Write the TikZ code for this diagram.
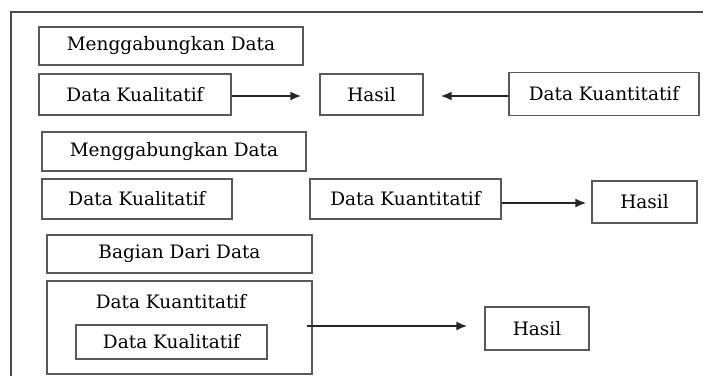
\documentclass[tikz,border=0pt]{standalone}
\usepackage{fontspec}
\setmainfont{DejaVu Serif}
\usetikzlibrary{arrows.meta}
\begin{document}
\begin{tikzpicture}[x=1pt,y=-1pt,
  box/.style={draw=black!65,line width=1.2pt,rectangle,inner sep=0pt,font=\fontsize{18.5}{22}\selectfont},
  lbl/.style={inner sep=0pt,font=\fontsize{18.5}{22}\selectfont},
  arr/.style={-{Latex[length=11pt,width=9pt]},line width=2pt,black!85}]
\useasboundingbox (0,0) rectangle (703,376);
\draw[black!70,line width=1.2pt] (11,376) -- (11,12) -- (703,12);
% section 1
\node[box,minimum width=264pt,minimum height=38pt] (m1) at (171,46) {Menggabungkan Data};
\node[box,minimum width=192pt,minimum height=41pt] (k1) at (135,94.5) {Data Kualitatif};
\node[box,minimum width=103pt,minimum height=41pt] (h1) at (371.5,94.5) {Hasil};
\node[box,minimum width=190pt,minimum height=43pt] (q1) at (604,94) {Data Kuantitatif};
\draw[arr,shorten >=18pt] ([yshift=-1.5pt]k1.east) -- ([yshift=-1.5pt]k1.east -| h1.west);
\draw[arr,shorten >=17pt] ([yshift=-2pt]q1.west) -- ([yshift=-2pt]q1.west -| h1.east);
% section 2
\node[box,minimum width=264pt,minimum height=39pt] (m2) at (174,151.5) {Menggabungkan Data};
\node[box,minimum width=190pt,minimum height=40pt] (k2) at (137,199) {Data Kualitatif};
\node[box,minimum width=191pt,minimum height=40pt] (q2) at (405.5,199) {Data Kuantitatif};
\node[box,minimum width=105pt,minimum height=42pt] (h2) at (644.5,202) {Hasil};
\draw[arr,shorten >=5pt] ([yshift=-4pt]q2.east) -- ([yshift=-4pt]q2.east -| h2.west);
% section 3
\node[box,minimum width=265pt,minimum height=38pt] (b3) at (179.5,254) {Bagian Dari Data};
\node[box,minimum width=265pt,minimum height=93pt] (o3) at (179.5,327.5) {};
\node[lbl] (t3) at (171,302) {Data Kuantitatif};
\node[box,minimum width=191pt,minimum height=34pt] (k3) at (171.5,342) {Data Kualitatif};
\node[box,minimum width=104pt,minimum height=43pt] (h3) at (537,328.5) {Hasil};
\draw[arr,shorten >=17pt,shorten <=-6pt] ([yshift=1.5pt]o3.east) -- ([yshift=1.5pt]o3.east -| h3.west);
\end{tikzpicture}
\end{document}
